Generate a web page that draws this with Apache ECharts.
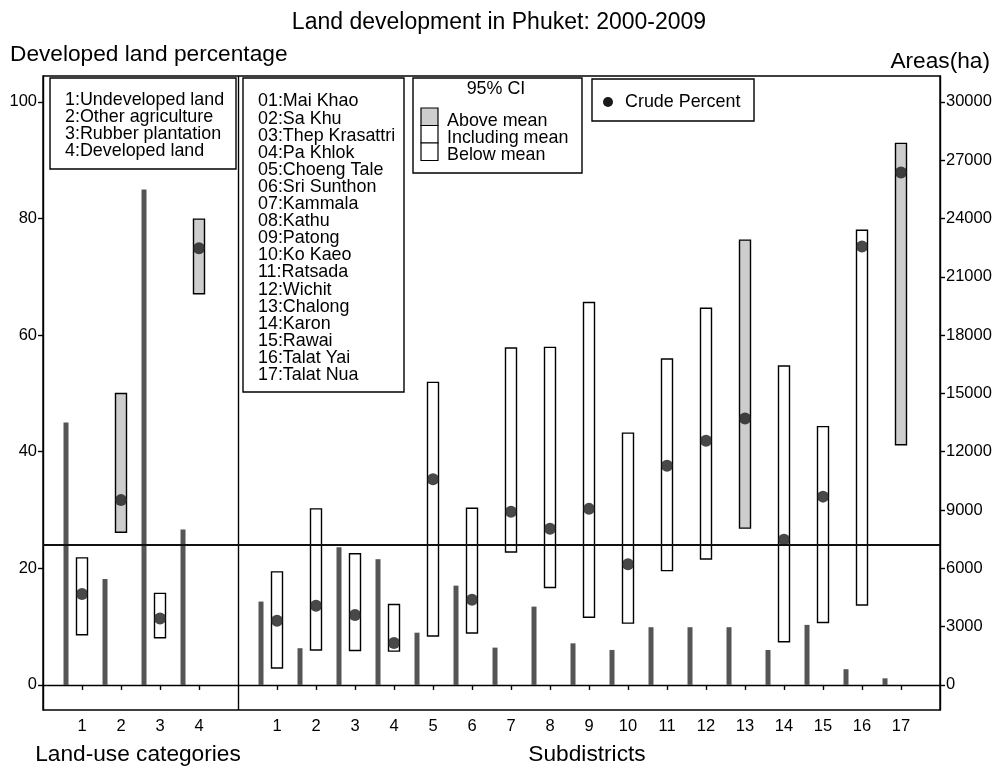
<!DOCTYPE html>
<html>
<head>
<meta charset="utf-8">
<title>Land development in Phuket: 2000-2009</title>
<script src="https://cdn.jsdelivr.net/npm/echarts@6/dist/echarts.min.js"></script>
<style>
  html, body { margin: 0; padding: 0; background: #fff; }
  #chart { width: 998px; height: 769px; }
</style>
</head>
<body>
<div id="chart"></div>
<script>
// Land-use categories (left panel)
const landUseCats = ['1', '2', '3', '4'];
const landUseNames = ['Undeveloped land', 'Other agriculture', 'Rubber plantation', 'Developed land'];
const landArea = [13500, 5450, 25500, 8000];          // ha
const landLow = [8.6, 26.2, 8.1, 67.1];               // 95% CI lower, %
const landHigh = [21.8, 50.0, 15.7, 79.9];            // 95% CI upper, %
const landCrude = [15.6, 31.7, 11.4, 74.9];           // crude percent

// Subdistricts (right panel)
const subdistrictCats = ['1', '2', '3', '4', '5', '6', '7', '8', '9', '10', '11', '12', '13', '14', '15', '16', '17'];
const subdistrictNames = ['Mai Khao', 'Sa Khu', 'Thep Krasattri', 'Pa Khlok', 'Choeng Tale', 'Sri Sunthon',
  'Kammala', 'Kathu', 'Patong', 'Ko Kaeo', 'Ratsada', 'Wichit', 'Chalong', 'Karon', 'Rawai', 'Talat Yai', 'Talat Nua'];
const subArea = [4290, 1890, 7090, 6470, 2690, 5110, 1920, 4030, 2140, 1800, 2970, 2970, 2970, 1800, 3090, 810, 340];
const subLow = [2.9, 6.0, 5.9, 5.8, 8.4, 8.9, 22.8, 16.7, 11.6, 10.6, 19.6, 21.6, 26.9, 7.4, 10.7, 13.7, 41.2];
const subHigh = [19.4, 30.2, 22.5, 13.8, 51.9, 30.3, 57.8, 57.9, 65.6, 43.2, 55.9, 64.6, 76.3, 54.7, 44.3, 78.0, 92.9];
const subCrude = [11.0, 13.6, 12.0, 7.2, 35.3, 14.6, 29.7, 26.8, 30.2, 20.7, 37.6, 41.9, 45.7, 24.9, 32.3, 75.2, 87.9];

// Overall mean developed percentage
const meanLevel = 24.0;

// Axis ticks
const pctTicks = [0, 20, 40, 60, 80, 100];
const areaTicks = [0, 3000, 6000, 9000, 12000, 15000, 18000, 21000, 24000, 27000, 30000];

// Shared x positions: land-use slots 1..4, a divider slot at 5, subdistricts at 6..22
const landX = landUseCats.map((_, i) => i + 1);
const dividerX = landUseCats.length + 1;
const subX = subdistrictCats.map((_, i) => i + dividerX + 1);
const xMax = subX[subX.length - 1] + 1;
const xTickValues = landX.concat(subX);
const xLabelOf = {};
landX.forEach((x, i) => { xLabelOf[x] = landUseCats[i]; });
subX.forEach((x, i) => { xLabelOf[x] = subdistrictCats[i]; });

const pctMin = -4.3, pctMax = 104.45;
const haPerPct = 300;

const ciData = landX.map((x, i) => [x, landLow[i], landHigh[i]])
  .concat(subX.map((x, i) => [x, subLow[i], subHigh[i]]));
const crudeData = landX.map((x, i) => [x, landCrude[i]])
  .concat(subX.map((x, i) => [x, subCrude[i]]));
const areaData = landX.map((x, i) => [x, landArea[i]])
  .concat(subX.map((x, i) => [x, subArea[i]]));

const FONT = '"Liberation Sans", Arial, sans-serif';
const LEGEND_FONT = '17.9px ' + FONT;
const chart = echarts.init(document.getElementById('chart'), null, { renderer: 'canvas' });

// Legend panels
const legendGraphics = [];
function boxedText(x, y, w, h, lines, tx, ty, lh) {
  legendGraphics.push({
    type: 'rect', z: 100, shape: { x: x, y: y, width: w, height: h },
    style: { fill: '#fff', stroke: '#000', lineWidth: 1.4 }
  });
  legendGraphics.push({
    type: 'text', z: 101, x: tx, y: ty,
    style: { text: lines.join('\n'), font: LEGEND_FONT, fill: '#000', lineHeight: lh, textVerticalAlign: 'top' }
  });
}
boxedText(50, 78, 186, 91, landUseCats.map((c, i) => c + ':' + landUseNames[i]), 65, 91.5, 17);
boxedText(243, 78, 161, 314,
  subdistrictNames.map((n, i) => String(i + 1).padStart(2, '0') + ':' + n), 258, 93, 17.1);

// 95% CI legend
legendGraphics.push({ type: 'rect', z: 100, shape: { x: 413, y: 78, width: 169, height: 95 },
  style: { fill: '#fff', stroke: '#000', lineWidth: 1.4 } });
legendGraphics.push({ type: 'text', z: 101, x: 496, y: 89,
  style: { text: '95% CI', font: LEGEND_FONT, fill: '#000', textAlign: 'center', textVerticalAlign: 'middle' } });
const ciLegend = [['Above mean', '#cdcdcd'], ['Including mean', '#fff'], ['Below mean', '#fff']];
ciLegend.forEach((item, i) => {
  legendGraphics.push({ type: 'rect', z: 101, shape: { x: 421, y: 108 + i * 17.5, width: 17, height: 17.5 },
    style: { fill: item[1], stroke: '#000', lineWidth: 1.2 } });
  legendGraphics.push({ type: 'text', z: 101, x: 447, y: 121 + i * 17,
    style: { text: item[0], font: LEGEND_FONT, fill: '#000', textVerticalAlign: 'middle' } });
});

// Crude percent legend
legendGraphics.push({ type: 'rect', z: 100, shape: { x: 592, y: 79, width: 162, height: 42 },
  style: { fill: '#fff', stroke: '#000', lineWidth: 1.4 } });
legendGraphics.push({ type: 'circle', z: 101, shape: { cx: 608, cy: 102, r: 5 }, style: { fill: '#1a1a1a' } });
legendGraphics.push({ type: 'text', z: 101, x: 625, y: 102,
  style: { text: 'Crude Percent', font: LEGEND_FONT, fill: '#000', textVerticalAlign: 'middle' } });

// Axis names
const axisNames = [
  ['Developed land percentage', 10, 55, 'left'],
  ['Areas(ha)', 990, 62, 'right'],
  ['Land-use categories', 138, 755, 'center'],
  ['Subdistricts', 587, 755, 'center']
];
axisNames.forEach(a => legendGraphics.push({ type: 'text', z: 101, x: a[1], y: a[2],
  style: { text: a[0], font: '22.7px ' + FONT, fill: '#000', textAlign: a[3], textVerticalAlign: 'middle' } }));

const option = {
  backgroundColor: '#fff',
  animation: false,
  title: {
    text: 'Land development in Phuket: 2000-2009',
    left: 494, top: 6, textAlign: 'center',
    textStyle: { fontFamily: FONT, fontSize: 23, fontWeight: 'normal', color: '#000' }
  },
  grid: { left: 43, right: 58, top: 76, bottom: 59, show: true, borderColor: '#000', borderWidth: 1.4, backgroundColor: 'transparent' },
  xAxis: {
    type: 'value', min: 0, max: xMax,
    axisLine: { show: true, lineStyle: { color: '#000', width: 1.4 } },
    axisTick: { show: true, length: 5, customValues: xTickValues, lineStyle: { color: '#000', width: 1.4 } },
    axisLabel: { customValues: xTickValues, formatter: v => xLabelOf[v] || '', margin: 8,
      fontFamily: FONT, fontSize: 16.5, color: '#000' },
    splitLine: { show: false }
  },
  yAxis: [
    {
      type: 'value', min: pctMin, max: pctMax, position: 'left',
      axisLine: { show: true, lineStyle: { color: '#000', width: 1.4 } },
      axisTick: { show: true, length: 5, customValues: pctTicks, lineStyle: { color: '#000', width: 1.4 } },
      axisLabel: { customValues: pctTicks, formatter: v => String(v), margin: 6,
        fontFamily: FONT, fontSize: 16.5, color: '#000' },
      splitLine: { show: false }
    },
    {
      type: 'value', min: pctMin * haPerPct, max: pctMax * haPerPct, position: 'right',
      axisLine: { show: true, lineStyle: { color: '#000', width: 1.4 } },
      axisTick: { show: true, length: 5, customValues: areaTicks, lineStyle: { color: '#000', width: 1.4 } },
      axisLabel: { customValues: areaTicks, formatter: v => String(Math.round(v)), margin: 6,
        fontFamily: FONT, fontSize: 16.5, color: '#000' },
      splitLine: { show: false }
    }
  ],
  graphic: legendGraphics,
  series: [
    {
      name: 'Areas(ha)', type: 'custom', yAxisIndex: 1, z: 2,
      data: areaData, encode: { x: 0, y: 1 },
      renderItem: function (params, api) {
        const x = api.value(0) - 0.41;
        const top = api.coord([x, api.value(1)]);
        const base = api.coord([x, 0]);
        return { type: 'rect', shape: { x: top[0] - 2.5, y: top[1], width: 5, height: base[1] - top[1] },
          style: { fill: '#555' } };
      },
      markLine: {
        silent: true, symbol: 'none', label: { show: false },
        data: [
          { xAxis: dividerX, lineStyle: { color: '#000', width: 1.4, type: 'solid' } },
          { yAxis: meanLevel * haPerPct, lineStyle: { color: '#111', width: 2, type: 'solid' } }
        ]
      }
    },
    {
      name: '95% CI', type: 'custom', z: 3,
      data: ciData, encode: { x: 0, y: [1, 2] },
      renderItem: function (params, api) {
        const x = api.value(0), lo = api.value(1), hi = api.value(2);
        const pHi = api.coord([x, hi]);
        const pLo = api.coord([x, lo]);
        const fill = lo > meanLevel ? '#cdcdcd' : '#fff';
        return { type: 'rect', shape: { x: pHi[0] - 5.5, y: pHi[1], width: 11, height: pLo[1] - pHi[1] },
          style: { fill: fill, stroke: '#000', lineWidth: 1.4 } };
      }
    },
    {
      name: 'Crude Percent', type: 'scatter', z: 4,
      data: crudeData, symbol: 'circle', symbolSize: 12,
      itemStyle: { color: '#1a1a1a' }
    }
  ]
};
chart.setOption(option);
</script>
</body>
</html>
